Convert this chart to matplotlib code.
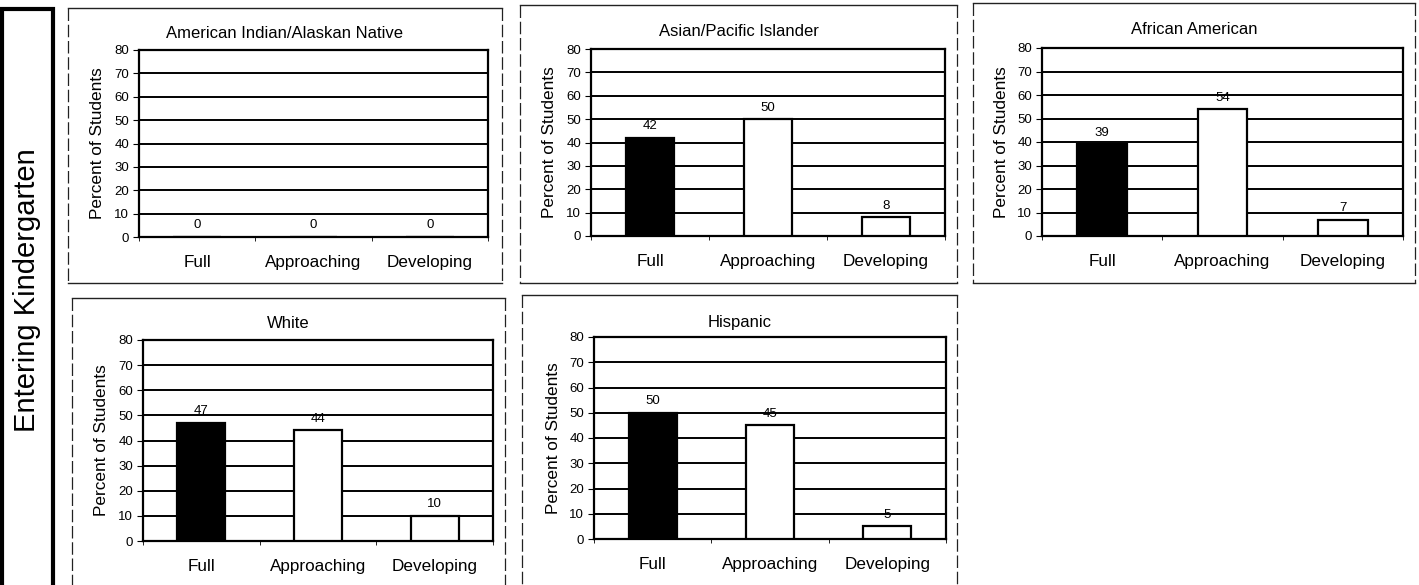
import matplotlib
matplotlib.use("Agg")
import matplotlib.pyplot as plt
from matplotlib.lines import Line2D
from matplotlib.patches import Rectangle

plt.rcParams['font.family'] = ['Liberation Sans', 'DejaVu Sans']

categories = ['Full', 'Approaching', 'Developing']
groups = ['American Indian/Alaskan Native', 'Asian/Pacific Islander',
          'African American', 'White', 'Hispanic']
values = {
    'American Indian/Alaskan Native': [0, 0, 0],
    'Asian/Pacific Islander': [42, 50, 8],
    'African American': [39, 54, 7],
    'White': [47, 44, 10],
    'Hispanic': [50, 45, 5],
}
bar_colors = ['black', 'white', 'white']
side_label = 'Entering Kindergarten'
y_label = 'Percent of Students'

W, H = 1419, 585
fig = plt.figure(figsize=(W / 100, H / 100), dpi=100)

# pixel layout: axes (left, right, top, bottom), panel box (left, top, right, bottom)
axes_px = [(139, 488, 50, 237), (591, 945, 49, 236), (1042, 1403, 48, 236),
           (143, 493, 340, 541), (594, 946, 337, 539)]
box_px = [(68, 8, 502, 283), (520, 5, 957, 283), (973, 3, 1415, 283),
          (72, 298, 505, 600), (522, 295, 957, 600)]
title_y = [33, 32, 30, 323, 322]


def fx(x):
    return x / W


def fy(y):
    return 1 - y / H


def seg(x0, y0, x1, y1, **kw):
    fig.add_artist(Line2D([fx(x0), fx(x1)], [fy(y0), fy(y1)],
                          transform=fig.transFigure, clip_on=False, **kw))


# left label box
fig.add_artist(Rectangle((fx(1.5), fy(600)), fx(51), (600 - 8.5) / H,
                         transform=fig.transFigure, fill=False,
                         edgecolor='black', lw=3, clip_on=False))
fig.text(fx(27), fy(290), side_label, rotation=90, ha='center', va='center',
         fontsize=21)

for i, g in enumerate(groups):
    l, r, t, b = axes_px[i]
    ax = fig.add_axes([fx(l), fy(b), (r - l) / W, (b - t) / H])
    x = range(len(categories))
    ax.bar(x, values[g], width=0.41, color=bar_colors, edgecolor='black',
           linewidth=1.6, zorder=3)
    for xi, v in zip(x, values[g]):
        ax.annotate(str(v), (xi, v), xytext=(0, 4), textcoords='offset points',
                    ha='center', va='bottom', fontsize=9.5, zorder=4)
    ax.set_xlim(-0.5, 2.5)
    ax.set_ylim(0, 80)
    ax.set_yticks(range(0, 81, 10))
    ax.yaxis.grid(True, color='black', lw=1.4)
    ax.set_axisbelow(True)
    ax.set_xticks(list(x))
    ax.set_xticklabels(categories, fontsize=12.3)
    ax.set_xticks([-0.5, 0.5, 1.5, 2.5], minor=True)
    ax.tick_params(axis='x', which='major', length=0, pad=13)
    ax.tick_params(axis='x', which='minor', length=3, direction='out')
    ax.tick_params(axis='y', length=4, labelsize=9.5, pad=3)
    for sp in ax.spines.values():
        sp.set_linewidth(1.6)
    ax.set_ylabel(y_label, fontsize=12.4, va='center')
    ax.yaxis.set_label_coords((l - 41 - l) / (r - l), 0.5)

    bl, bt, br, bb = box_px[i]
    fig.text(fx((bl + br) / 2), fy(title_y[i]), g, ha='center', va='center',
             fontsize=12)
    seg(bl, bt, br, bt, color='#222222', lw=1)
    seg(bl, bb, br, bb, color='#222222', lw=1)
    seg(bl, bt, bl, bb, color='#222222', lw=0.9, linestyle=(0, (10, 3)))
    seg(br, bt, br, bb, color='#222222', lw=0.9, linestyle=(0, (10, 3)))

fig.savefig('out.png', dpi=100)
